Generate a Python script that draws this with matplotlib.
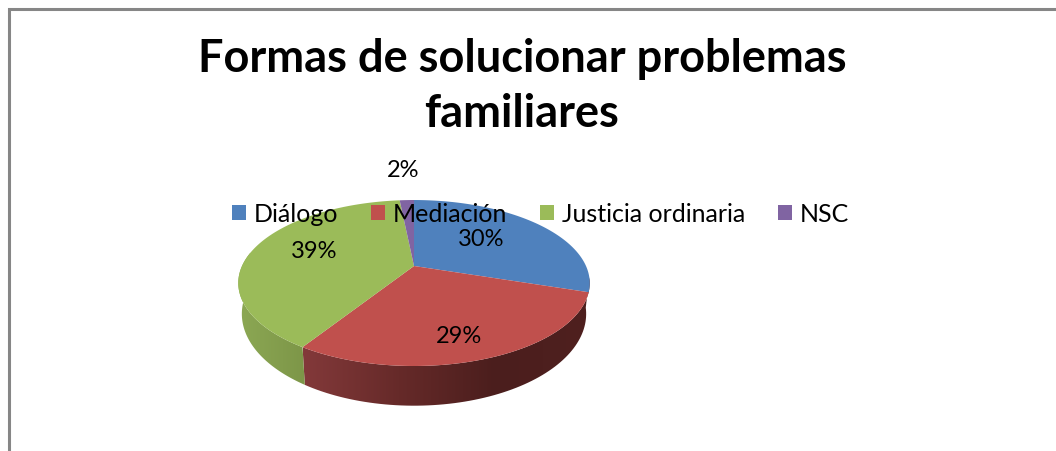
import numpy as np
import matplotlib
matplotlib.use("Agg")
import matplotlib.pyplot as plt
from matplotlib.colors import LinearSegmentedColormap
from matplotlib.patches import Patch, Polygon

plt.rcParams['font.family'] = ['Lato', 'DejaVu Sans']

title = "Formas de solucionar problemas\nfamiliares"
categories = ["Diálogo", "Mediación", "Justicia ordinaria", "NSC"]
values = [30, 29, 39.4, 1.6]
colors = ["#4F81BD", "#C0504D", "#9BBB59", "#8064A2"]
label_pos = [(481, 240), (459, 337), (314, 252), (403, 171)]

# wall shading, left to right
wall_shades = {1: ["#83393A", "#662A29", "#4B1E1D", "#4F201F"],
               2: ["#8CA854", "#7D9648"]}


def rim(theta, cy, a, b):
    # circle seen in perspective, far side squeezed
    u, v = np.cos(theta), np.sin(theta)
    w = 1 + 0.205 * v
    return np.column_stack([414 + a * u / w, cy - b * v / w])


def top(theta):
    return rim(theta, 267, 172, 79.5)


def bottom(theta):
    return rim(theta, 296, 168.5, 88)


fig = plt.figure(figsize=(10.56, 4.52), dpi=100)
ax = fig.add_axes([0, 0, 1, 1])
ax.set_xlim(0, 1056)
ax.set_ylim(452, 0)
ax.axis("off")

# page frame
ax.plot([8.5, 8.5, 1056], [452, 10, 10], color="#868686", lw=2.2, solid_joinstyle="miter")

edges = np.pi / 2 - 2 * np.pi * np.cumsum([0] + values) / sum(values)

# side walls, only the front part shows
front_lo, front_hi = np.radians(-190), np.radians(-8)
for i in wall_shades:
    start, end = edges[i + 1], edges[i]
    start, end = max(start, front_lo), min(end, front_hi)
    if i == 1:
        end = front_hi
    t = np.linspace(start, end, 80)
    poly = Polygon(np.vstack([top(t), bottom(t[::-1])]), closed=True, fc="none", ec="none")
    ax.add_patch(poly)
    xs = np.concatenate([top(t)[:, 0], bottom(t)[:, 0]])
    ys = np.concatenate([top(t)[:, 1], bottom(t)[:, 1]])
    cmap = LinearSegmentedColormap.from_list("wall", wall_shades[i])
    im = ax.imshow(np.linspace(0, 1, 256)[None, :], cmap=cmap, aspect="auto",
                   extent=[xs.min(), xs.max(), ys.max(), ys.min()], zorder=1)
    im.set_clip_path(poly)
ax.set_xlim(0, 1056)
ax.set_ylim(452, 0)

# top face
apex = np.array([[414, 267]])
for i, c in enumerate(colors):
    t = np.linspace(edges[i], edges[i + 1], 120)
    ax.add_patch(Polygon(np.vstack([apex, top(t)]), closed=True, fc=c, ec="none", zorder=2))

for val, (x, y) in zip(values, label_pos):
    ax.text(x, y, f"{val:.0f}%", ha="center", va="center", fontsize=17, color="black", zorder=5)

ax.text(522, 86.5, title, ha="center", va="center", fontsize=32.5, fontweight="bold",
        linespacing=1.41, color="black", zorder=5)

handles = [Patch(fc=c, ec="none") for c in colors]
ax.legend(handles, categories, ncol=4, frameon=False, fontsize=18,
          loc="center left", bbox_to_anchor=(232 / 1056, 1 - 215 / 452),
          borderaxespad=0, borderpad=0, handlelength=0.56, handleheight=0.56,
          handletextpad=0.32, columnspacing=1.3).set_zorder(4)

plt.savefig("out.png", dpi=100)
